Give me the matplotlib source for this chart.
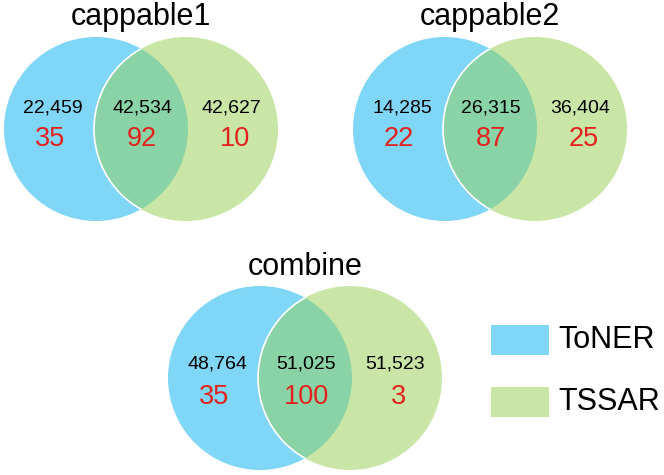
import matplotlib
matplotlib.use('Agg')
import matplotlib.pyplot as plt
from matplotlib.patches import Circle, Rectangle

plt.rcParams['font.family'] = ['Liberation Sans', 'DejaVu Sans']

# counts shown in each venn
titles = ['cappable1', 'cappable2', 'combine']
only_toner = [22459, 14285, 48764]
shared = [42534, 26315, 51025]
only_tssar = [42627, 36404, 51523]
# red numbers under the counts
red_toner = [35, 22, 35]
red_shared = [92, 87, 100]
red_tssar = [10, 25, 3]
legend_labels = ['ToNER', 'TSSAR']

BLUE = '#80d6f6'
GREEN = '#c9e6a7'
OVERLAP = '#89d3a6'
RED = '#e3201b'

# layout in pixel coordinates (x, y of venn centre)
centres = [(141, 129), (490, 129), (305, 378)]
title_y = [17, 17, 267]
num_dy = [-21, -21, -14]
red_dy = [10, 10, 19]
R = 92
SEP = 45


def draw_venn(ax, cx, cy, title, ty, counts, reds, ndy, rdy):
    left = Circle((cx - SEP, cy), R, fc=BLUE, ec='none')
    right = Circle((cx + SEP, cy), R, fc=GREEN, ec='none')
    ax.add_patch(left)
    ax.add_patch(right)
    # overlap region: blue circle in overlap colour clipped by green circle
    ov = Circle((cx - SEP, cy), R, fc=OVERLAP, ec='none')
    ax.add_patch(ov)
    ov.set_clip_path(right)
    # white edge of green circle where it crosses the blue one
    edge = Circle((cx + SEP, cy), R, fc='none', ec='white', lw=1.2)
    ax.add_patch(edge)
    edge.set_clip_path(left)

    ax.text(cx, ty, title, ha='center', va='center', fontsize=22)
    xs = [-88, 1, 90]
    rxs = [-91, 1, 94]
    for dx, rdx, n, r in zip(xs, rxs, counts, reds):
        ax.text(cx + dx, cy + ndy, f'{n:,}', ha='center', va='center', fontsize=14)
        ax.text(cx + rdx, cy + rdy, str(r), ha='center', va='center',
                fontsize=19.5, color=RED)


fig = plt.figure(figsize=(6.64, 4.75), dpi=100)
ax = fig.add_axes([0, 0, 1, 1])
ax.set_xlim(0, 664)
ax.set_ylim(475, 0)
ax.set_aspect('equal')
ax.axis('off')

for i in range(3):
    cx, cy = centres[i]
    draw_venn(ax, cx, cy, titles[i], title_y[i],
              [only_toner[i], shared[i], only_tssar[i]],
              [red_toner[i], red_shared[i], red_tssar[i]],
              num_dy[i], red_dy[i])

# legend boxes
for (label, col, ly) in zip(legend_labels, [BLUE, GREEN], [340, 402]):
    ax.add_patch(Rectangle((491, ly - 15), 58, 30, fc=col, ec='none'))
    ax.text(558, ly, label, ha='left', va='center', fontsize=22)

fig.savefig('out.png', dpi=100)
